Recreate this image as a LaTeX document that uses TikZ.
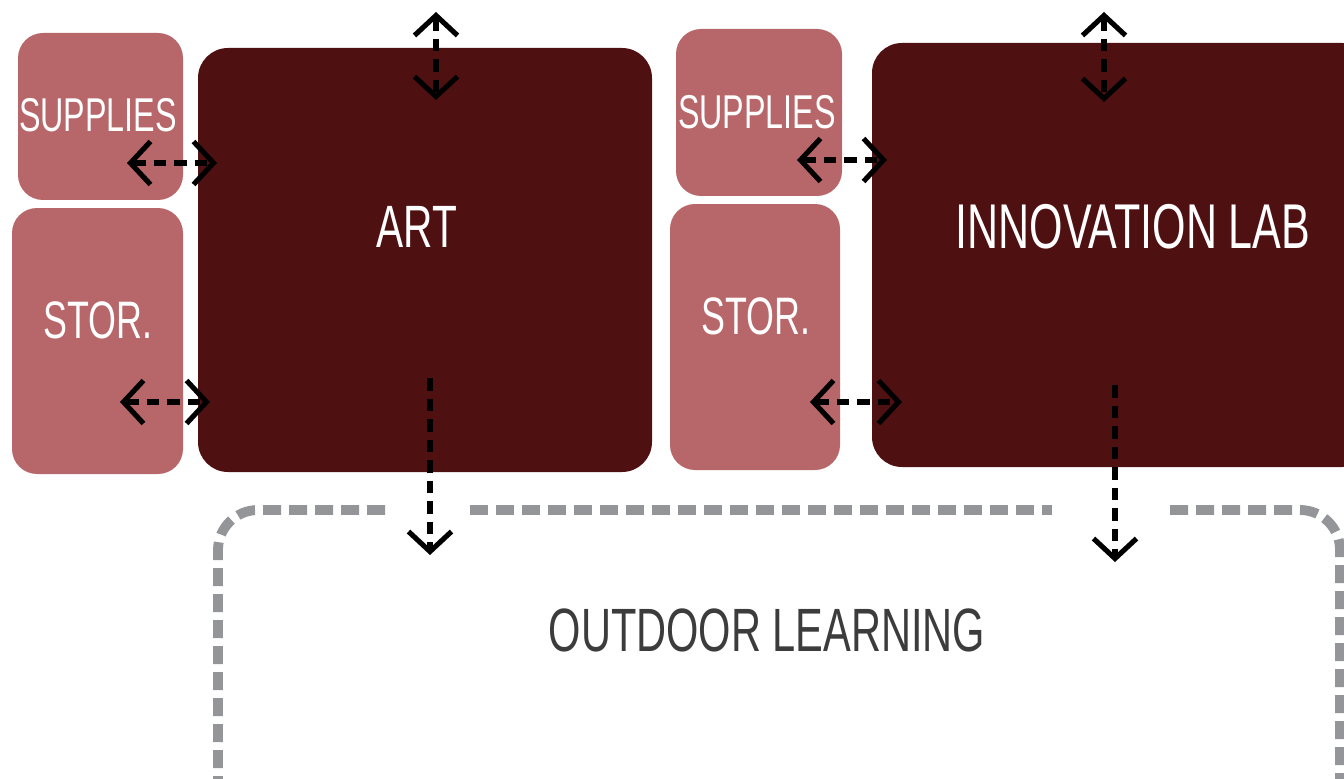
\documentclass[tikz,border=0pt]{standalone}
\usepackage{fontspec}
\setmainfont{Liberation Sans}[FakeStretch=0.68]
\usetikzlibrary{arrows.meta}

\definecolor{roomdark}{RGB}{79,16,18}
\definecolor{roompink}{RGB}{183,102,105}
\definecolor{outline}{RGB}{147,149,152}
\definecolor{labelgray}{RGB}{60,60,60}

\tikzset{
	room/.style={fill=roomdark, rounded corners=3mm, inner sep=0pt},
	aux/.style={fill=roompink, rounded corners=2.5mm, inner sep=0pt},
	roomtext/.style={text=white, font=\fontsize{17}{20}\selectfont},
	auxtext/.style={text=white, font=\fontsize{13.5}{16}\selectfont},
	link/.style={black, line width=1.45pt, dash pattern=on 1.25mm off 0.8mm},
	both/.style={link, {Straight Barb[length=2mm,width=4.3mm]}-{Straight Barb[length=2mm,width=4.3mm]}},
	down/.style={link, -{Straight Barb[length=2mm,width=4.3mm]}},
	border/.style={outline, line width=2.8pt, dash pattern=on 1.8mm off 0.8mm, rounded corners=4mm}
}

\begin{document}
\begin{tikzpicture}[x=0.1mm, y=-0.1mm]
	\useasboundingbox (0,0) rectangle (1344,779);

	%% Art
	\node[aux, minimum width=16.5mm, minimum height=16.7mm] (sup1) at (100.5,116.5) {};
	\node[aux, minimum width=17.1mm, minimum height=26.6mm] (stor1) at (97.5,341) {};
	\node[room, minimum width=45.4mm, minimum height=42.4mm] (art) at (425,260) {};
	\node[auxtext] (sup1lbl) at (98,115) {SUPPLIES};
	\node[auxtext, font=\fontsize{15}{18}\selectfont] (stor1lbl) at (98,320) {STOR.};
	\node[roomtext] (artlbl) at (417,227) {ART};

	%% Innovation lab
	\node[aux, minimum width=16.6mm, minimum height=16.7mm] (sup2) at (759,112.5) {};
	\node[aux, minimum width=17mm, minimum height=26.6mm] (stor2) at (755,337) {};
	\node[room, minimum width=50mm, minimum height=42.4mm] (lab) at (1122,255) {};
	\node[auxtext] (sup2lbl) at (757,112) {SUPPLIES};
	\node[auxtext, font=\fontsize{15}{18}\selectfont] (stor2lbl) at (756,316) {STOR.};
	\node[roomtext, font=\fontsize{18}{21}\selectfont] (lablbl) at (1133,227) {INNOVATION LAB};

	%% Outdoor learning
	\draw[border] (385,510) -- (218,510) -- (218,800);
	\draw[border] (470,510) -- (1052,510);
	\draw[border] (1170,510) -- (1340,510) -- (1340,800);
	\node[text=labelgray, font=\fontsize{17.4}{20}\selectfont] (outlbl) at (767,630) {OUTDOOR LEARNING};

	%% Verbindungen
	\coordinate (s1a) at (127,163); \coordinate (s1b) at (217,163);
	\coordinate (t1a) at (120,402); \coordinate (t1b) at (210,402);
	\coordinate (arttop) at (436,12); \coordinate (artin) at (436,100);
	\coordinate (artbot) at (430,378); \coordinate (artout) at (430,555);
	\coordinate (s2a) at (797,160); \coordinate (s2b) at (887,160);
	\coordinate (t2a) at (810,402); \coordinate (t2b) at (902,402);
	\coordinate (labtop) at (1104,12); \coordinate (labin) at (1104,102);
	\coordinate (labbot) at (1115,385); \coordinate (labout) at (1115,562);

	\draw[both] (s1a) -- (s1b);
	\draw[both] (t1a) -- (t1b);
	\draw[both] (arttop) -- (artin);
	\draw[down] (artbot) -- (artout);
	\draw[both] (s2a) -- (s2b);
	\draw[both] (t2a) -- (t2b);
	\draw[both] (labtop) -- (labin);
	\draw[down] (labbot) -- (labout);
\end{tikzpicture}
\end{document}
